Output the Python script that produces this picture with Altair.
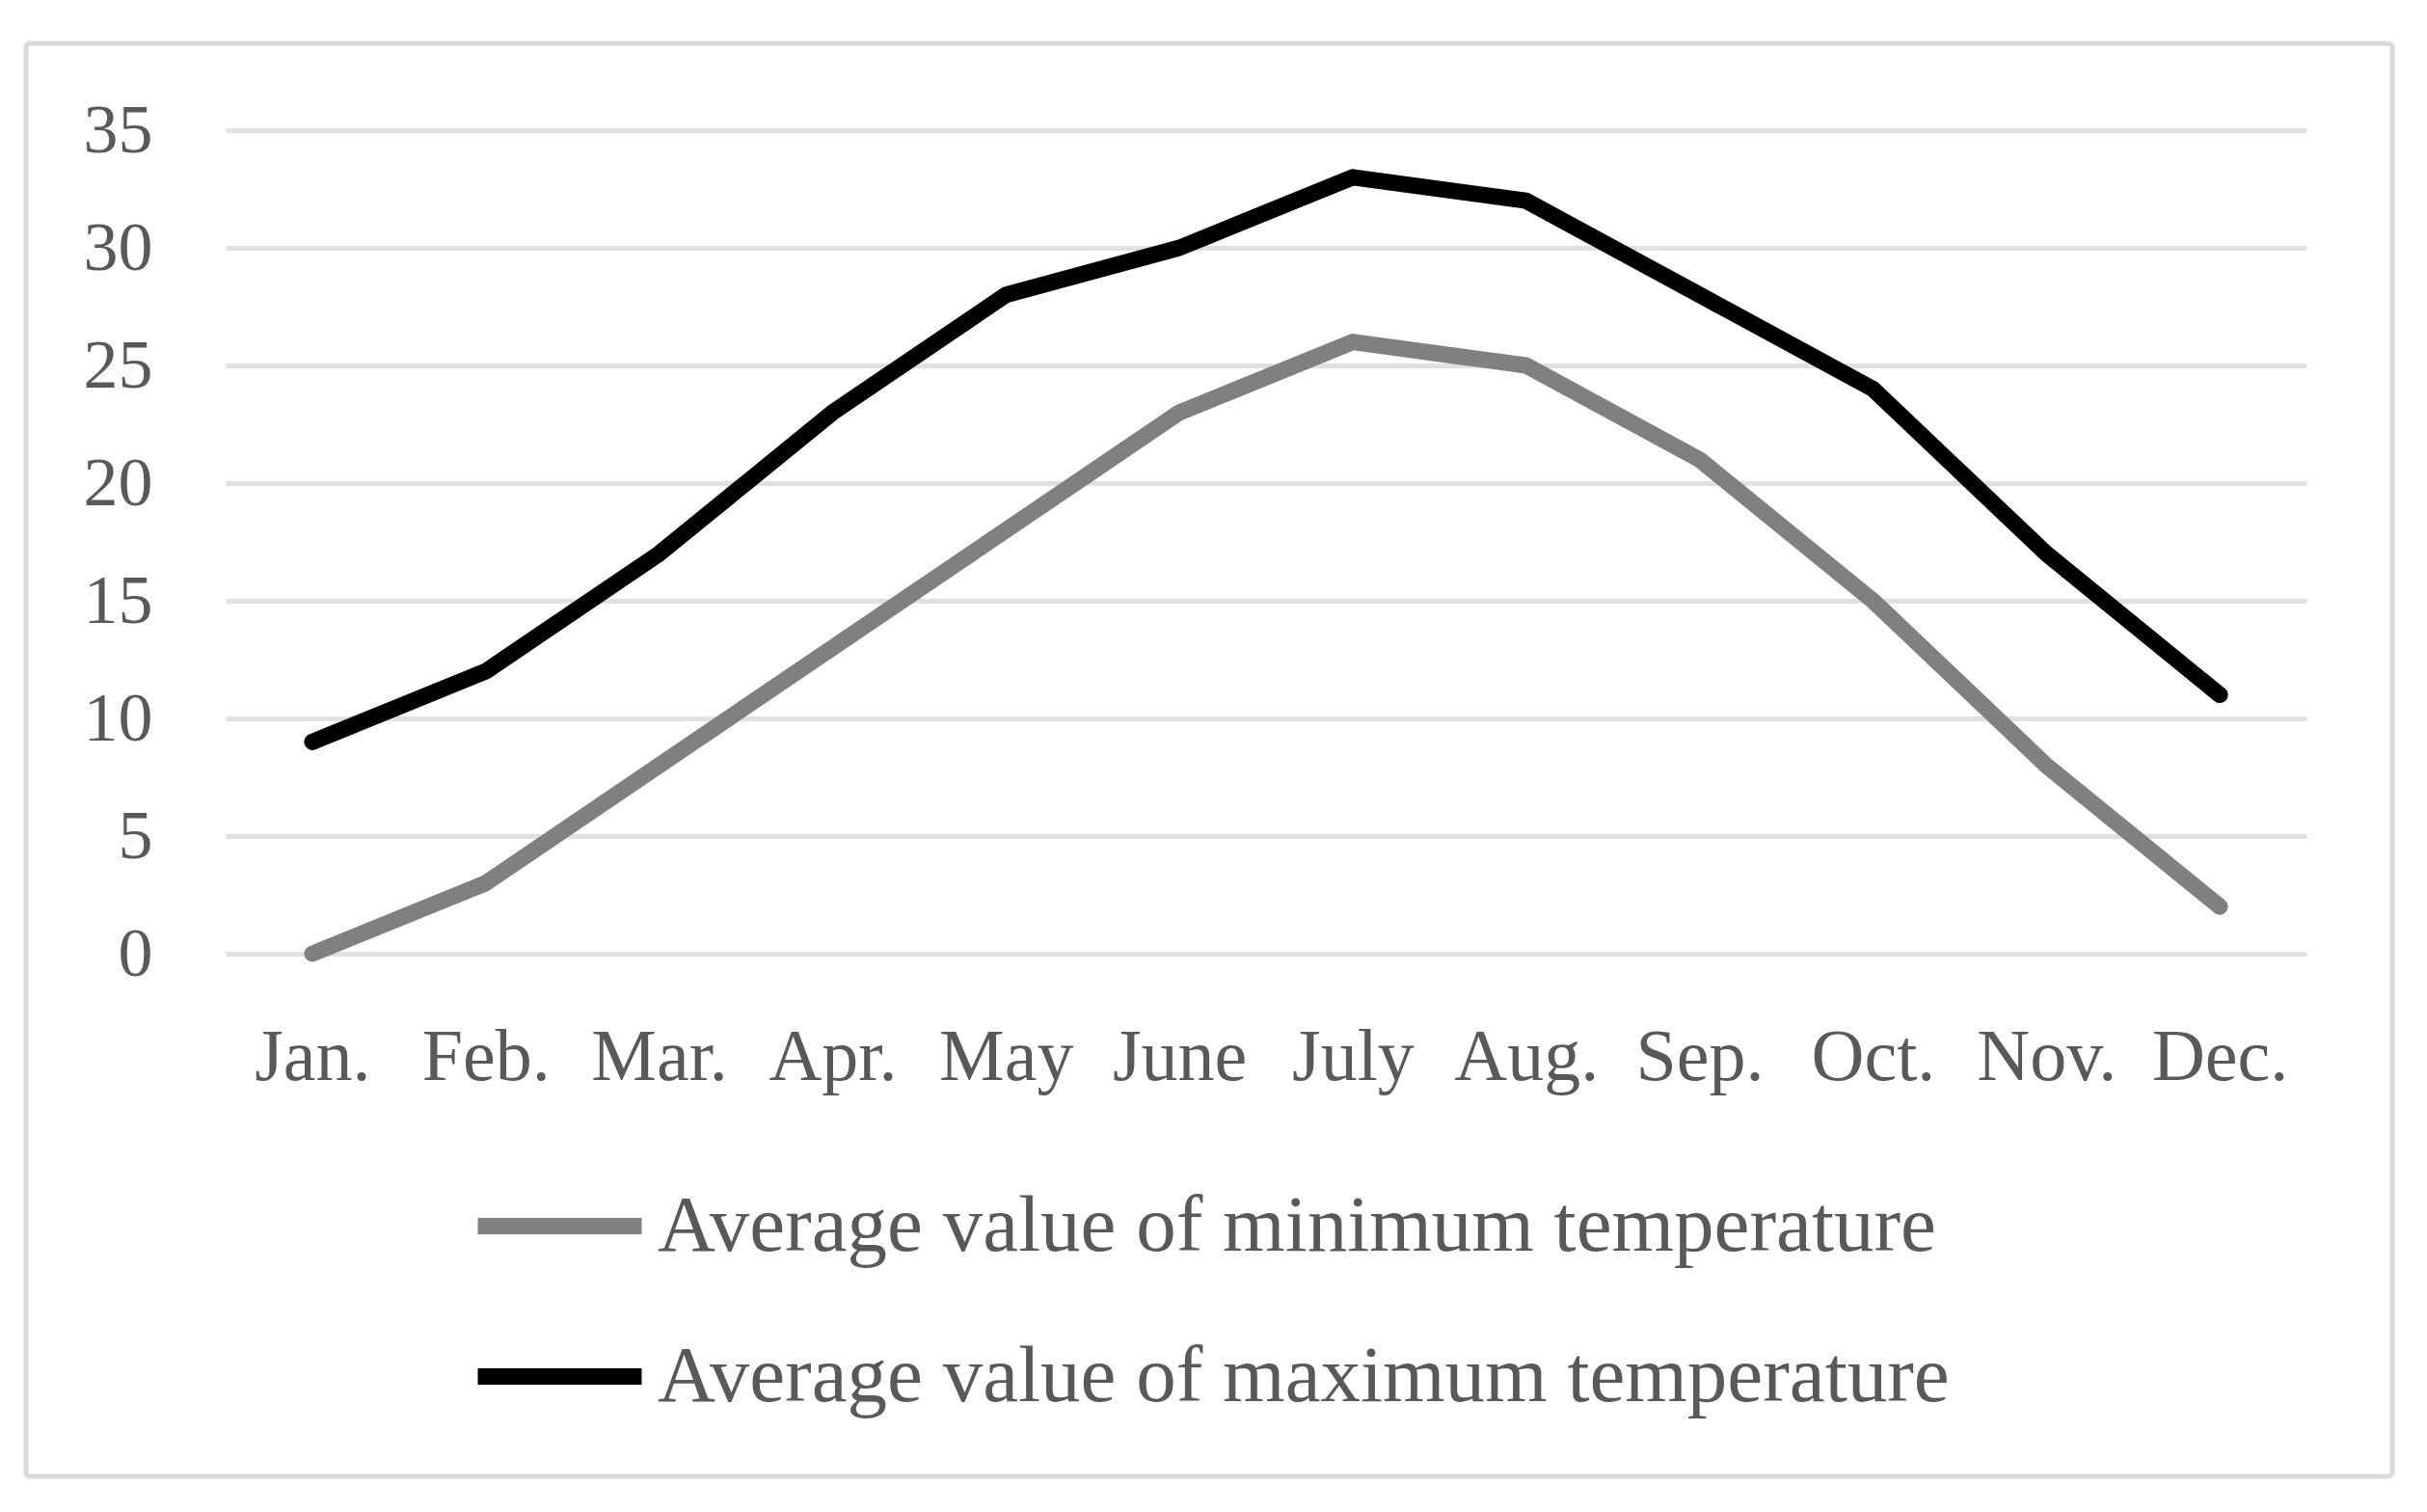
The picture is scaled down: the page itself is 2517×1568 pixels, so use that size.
import altair as alt
import pandas as pd

months = ["Jan.", "Feb.", "Mar.", "Apr.", "May", "June", "July", "Aug.", "Sep.", "Oct.", "Nov.", "Dec."]
min_temp = [0, 3, 8, 13, 18, 23, 26, 25, 21, 15, 8, 2]
max_temp = [9, 12, 17, 23, 28, 30, 33, 32, 28, 24, 17, 11]
series_names = ["Average value of minimum temperature", "Average value of maximum temperature"]
series_colors = ["#808080", "#000000"]

rows = []
for m, v in zip(months, min_temp):
    rows.append({"month": m, "value": v, "series": series_names[0]})
for m, v in zip(months, max_temp):
    rows.append({"month": m, "value": v, "series": series_names[1]})
df = pd.DataFrame(rows)

FONT = "'Book Antiqua', 'Palatino Linotype', Palatino, 'Liberation Serif', serif"
TXT = "#595959"

W, H = 2158, 854
PL, PT = 226, 127

lines = alt.Chart(df).mark_line(strokeWidth=17, strokeJoin="round", strokeCap="round").encode(
    x=alt.X("month:N", sort=months, scale=alt.Scale(type="point", padding=0.5),
            axis=alt.Axis(title=None, labelAngle=0, domain=False, ticks=False, grid=False,
                          labelFontSize=76, labelFont=FONT, labelColor=TXT, labelPadding=70)),
    y=alt.Y("value:Q", scale=alt.Scale(domain=[0, 35], nice=False),
            axis=alt.Axis(title=None, values=[0, 5, 10, 15, 20, 25, 30, 35], domain=False, ticks=False,
                          gridColor="#e0e0e0", gridWidth=5, labelFontSize=72, labelFont=FONT,
                          labelColor=TXT, labelPadding=76)),
    color=alt.Color("series:N", sort=series_names,
                    scale=alt.Scale(domain=series_names, range=series_colors),
                    legend=alt.Legend(title=None, orient="none", legendX=253, legendY=1043,
                                      direction="vertical", symbolType="stroke",
                                      symbolStrokeWidth=17, symbolSize=28900,
                                      labelFontSize=83, labelFont=FONT, labelColor=TXT,
                                      labelLimit=2000, labelOffset=8, rowPadding=20)),
)

frame = alt.Chart(pd.DataFrame({"a": [0]})).mark_rect(
    fill=None, stroke="#d9d9d9", strokeWidth=5, cornerRadius=4
).encode(
    x=alt.value(27 - 8 - PL), x2=alt.value(2481 - 8 - PL),
    y=alt.value(45 - 8 - PT), y2=alt.value(1531 - 8 - PT),
)

chart = alt.layer(frame, lines).properties(
    width=W, height=H,
    autosize=alt.AutoSizeParams(type="none"),
    padding={"left": PL, "top": PT, "right": 2501 - PL - W, "bottom": 1552 - PT - H},
).configure(background="white").configure_view(stroke=None)

chart.save("out.html", embed_options={"renderer": "svg", "actions": False})
